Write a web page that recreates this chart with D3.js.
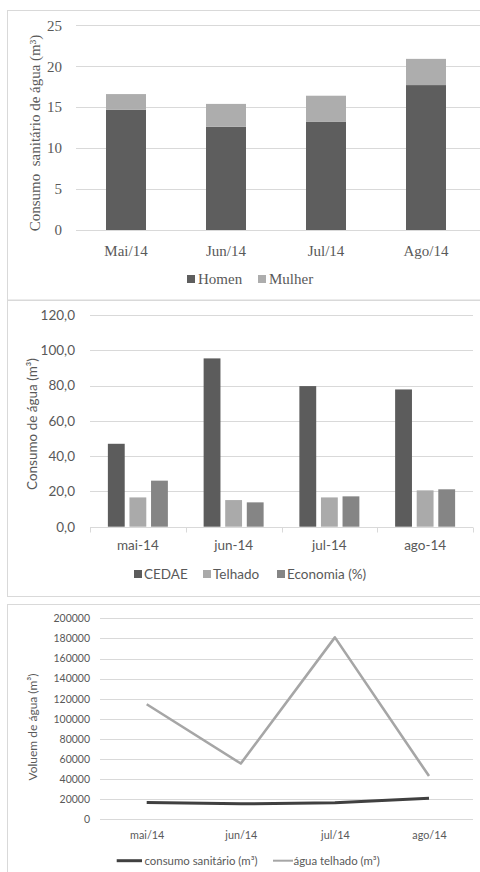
<!DOCTYPE html>
<html>
<head>
<meta charset="utf-8">
<script src="https://cdn.jsdelivr.net/npm/d3@7/dist/d3.min.js"></script>
<style>
  html, body { margin: 0; padding: 0; background: #fff; }
  svg { display: block; }
</style>
</head>
<body>
<svg id="chart" width="480" height="872"></svg>
<script>
// ---- Data ----
const months1 = ["Mai/14", "Jun/14", "Jul/14", "Ago/14"];
const homen = [14.7, 12.6, 13.2, 17.7];
const mulher = [1.9, 2.8, 3.2, 3.2];
const ticks1 = [0, 5, 10, 15, 20, 25];

const months2 = ["mai-14", "jun-14", "jul-14", "ago-14"];
const cedae = [47.0, 95.4, 79.7, 77.8];
const telhado = [16.6, 15.1, 16.6, 20.6];
const economia = [26.1, 13.8, 17.2, 21.2];
const ticks2 = [0, 20, 40, 60, 80, 100, 120];

const months3 = ["mai/14", "jun/14", "jul/14", "ago/14"];
const consumoSanitario = [16600, 15400, 16400, 20900];
const aguaTelhado = [114500, 55500, 181000, 43000];
const ticks3 = [0, 20000, 40000, 60000, 80000, 100000, 120000, 140000, 160000, 180000, 200000];

const svg = d3.select("#chart");
const gridColor = "#d9d9d9";
const textColor = "#595959";
const serif = "'Liberation Serif', 'Times New Roman', serif";
const sans = "Lato, 'Open Sans', sans-serif";

// Panel frames
svg.append("rect").attr("x", 7.5).attr("y", 10.5).attr("width", 480).attr("height", 289.5)
  .attr("fill", "none").attr("stroke", "#d9d9d9");
svg.append("rect").attr("x", 7.5).attr("y", 300.5).attr("width", 480).attr("height", 296)
  .attr("fill", "none").attr("stroke", "#d9d9d9");
svg.append("rect").attr("x", 7.5).attr("y", 604.5).attr("width", 480).attr("height", 280)
  .attr("fill", "none").attr("stroke", "#d9d9d9");

// ===== Panel 1: stacked bars =====
{
  const g = svg.append("g");
  const x = d3.scaleBand().domain(months1).range([76, 476]).paddingInner(0.6).paddingOuter(0.3);
  const y = d3.scaleLinear().domain([0, 25]).range([230, 25.3]);

  const yAxis = d3.axisLeft(y).tickValues(ticks1).tickSize(0).tickPadding(0);
  g.append("g").attr("transform", "translate(62,0)").call(yAxis)
    .call(a => a.select(".domain").remove())
    .call(a => a.selectAll("text").attr("font-family", serif).attr("font-size", 15).attr("fill", textColor));

  g.append("g").selectAll("line").data(ticks1).join("line")
    .attr("x1", 76).attr("x2", 480).attr("y1", d => Math.round(y(d)) + 0.5).attr("y2", d => Math.round(y(d)) + 0.5)
    .attr("stroke", gridColor).attr("stroke-width", 1);

  const rows = months1.map((m, i) => ({ month: m, Homen: homen[i], Mulher: mulher[i] }));
  const stack = d3.stack().keys(["Homen", "Mulher"])(rows);
  const col1 = { Homen: "#5e5e5e", Mulher: "#adadad" };
  g.append("g").selectAll("g").data(stack).join("g").attr("fill", s => col1[s.key])
    .selectAll("rect").data(s => s).join("rect")
    .attr("x", d => x(d.data.month)).attr("width", x.bandwidth())
    .attr("y", d => y(d[1])).attr("height", d => y(d[0]) - y(d[1]));

  const xAxis = d3.axisBottom(x).tickSize(0).tickPadding(0);
  g.append("g").attr("transform", "translate(0,245)").call(xAxis)
    .call(a => a.select(".domain").remove())
    .call(a => a.selectAll("text").attr("font-family", serif).attr("font-size", 15).attr("fill", textColor));

  g.append("text").attr("transform", "translate(40,133) rotate(-90)")
    .attr("text-anchor", "middle").attr("font-family", serif).attr("font-size", 15)
    .attr("fill", textColor).style("white-space", "pre")
    .text("Consumo  sanitário de água (m³)");

  const leg = [{ k: "Homen", x: 187 }, { k: "Mulher", x: 258 }];
  const lg = g.append("g").selectAll("g").data(leg).join("g")
    .attr("transform", d => `translate(${d.x},279)`);
  lg.append("rect").attr("x", 0).attr("y", -4).attr("width", 8).attr("height", 8).attr("fill", d => col1[d.k]);
  lg.append("text").attr("x", 11).attr("y", 5).attr("font-family", serif).attr("font-size", 15)
    .attr("fill", textColor).text(d => d.k);
}

// ===== Panel 2: grouped bars =====
{
  const g = svg.append("g");
  const x = d3.scaleBand().domain(months2).range([90, 473]);
  const bw = x.bandwidth();
  const keys = ["CEDAE", "Telhado", "Economia (%)"];
  const inner = d3.scaleBand().domain(keys).range([bw / 2 - 30, bw / 2 + 30]).paddingInner(0.22);
  const y = d3.scaleLinear().domain([0, 120]).range([526.7, 315]);
  const col2 = { "CEDAE": "#5c5c5c", "Telhado": "#aaaaaa", "Economia (%)": "#858585" };
  const series = { "CEDAE": cedae, "Telhado": telhado, "Economia (%)": economia };

  g.append("g").selectAll("line").data(ticks2.filter(d => d > 0)).join("line")
    .attr("x1", 90).attr("x2", 473).attr("y1", d => Math.round(y(d)) + 0.5).attr("y2", d => Math.round(y(d)) + 0.5)
    .attr("stroke", gridColor);

  const yAxis = d3.axisLeft(y).tickValues(ticks2).tickSize(0).tickPadding(0)
    .tickFormat(d => d3.format(".1f")(d).replace(".", ","));
  g.append("g").attr("transform", "translate(75,0)").call(yAxis)
    .call(a => a.select(".domain").remove())
    .call(a => a.selectAll("text").attr("font-family", sans).attr("font-size", 13.5).attr("fill", textColor));

  const data = [];
  months2.forEach((m, i) => keys.forEach(k => data.push({ m, k, v: series[k][i] })));
  g.append("g").selectAll("rect").data(data).join("rect")
    .attr("x", d => x(d.m) + inner(d.k)).attr("width", inner.bandwidth())
    .attr("y", d => y(d.v)).attr("height", d => y(0) - y(d.v)).attr("fill", d => col2[d.k]);

  // category axis with boundary ticks
  const base = Math.round(y(0)) + 0.5;
  g.append("line").attr("x1", 90).attr("x2", 473).attr("y1", base).attr("y2", base).attr("stroke", gridColor);
  const bounds = months2.map(m => x(m)).concat([x.range()[1]]);
  g.append("g").selectAll("line").data(bounds).join("line")
    .attr("x1", d => Math.round(d) + 0.5).attr("x2", d => Math.round(d) + 0.5)
    .attr("y1", base).attr("y2", base + 5).attr("stroke", gridColor);

  const xAxis = d3.axisBottom(x).tickSize(0).tickPadding(0);
  g.append("g").attr("transform", "translate(0,540)").call(xAxis)
    .call(a => a.select(".domain").remove())
    .call(a => a.selectAll("text").attr("font-family", sans).attr("font-size", 13.5).attr("fill", textColor));

  g.append("text").attr("transform", "translate(37,424) rotate(-90)")
    .attr("text-anchor", "middle").attr("font-family", sans).attr("font-size", 13.5)
    .attr("fill", textColor).text("Consumo de água (m³)");

  const leg = [{ k: "CEDAE", x: 134 }, { k: "Telhado", x: 203 }, { k: "Economia (%)", x: 277 }];
  const lg = g.append("g").selectAll("g").data(leg).join("g")
    .attr("transform", d => `translate(${d.x},574)`);
  lg.append("rect").attr("x", 0).attr("y", -4).attr("width", 8).attr("height", 8).attr("fill", d => col2[d.k]);
  lg.append("text").attr("x", 10).attr("y", 5).attr("font-family", sans).attr("font-size", 13.5)
    .attr("fill", textColor).text(d => d.k);
}

// ===== Panel 3: lines =====
{
  const g = svg.append("g");
  const x = d3.scalePoint().domain(months3).range([146.7, 429]);
  const y = d3.scaleLinear().domain([0, 200000]).range([819.3, 618.3]);

  g.append("g").selectAll("line").data(ticks3).join("line")
    .attr("x1", 100).attr("x2", 473).attr("y1", d => Math.round(y(d)) + 0.5).attr("y2", d => Math.round(y(d)) + 0.5)
    .attr("stroke", gridColor);

  const yAxis = d3.axisLeft(y).tickValues(ticks3).tickSize(0).tickPadding(0).tickFormat(d3.format("d"));
  g.append("g").attr("transform", "translate(90,0)").call(yAxis)
    .call(a => a.select(".domain").remove())
    .call(a => a.selectAll("text").attr("font-family", sans).attr("font-size", 10.5).attr("fill", textColor));

  const line = d3.line().x((d, i) => x(months3[i])).y(d => y(d));
  g.append("path").datum(aguaTelhado).attr("d", line).attr("fill", "none")
    .attr("stroke", "#a6a6a6").attr("stroke-width", 2.6).attr("stroke-linejoin", "round");
  g.append("path").datum(consumoSanitario).attr("d", line).attr("fill", "none")
    .attr("stroke", "#404040").attr("stroke-width", 3).attr("stroke-linejoin", "round");

  const xAxis = d3.axisBottom(x).tickSize(0).tickPadding(0);
  g.append("g").attr("transform", "translate(0,831)").call(xAxis)
    .call(a => a.select(".domain").remove())
    .call(a => a.selectAll("text").attr("font-family", sans).attr("font-size", 10.8).attr("fill", textColor));

  g.append("text").attr("transform", "translate(37,727) rotate(-90)")
    .attr("text-anchor", "middle").attr("font-family", sans).attr("font-size", 12)
    .attr("fill", textColor).text("Voluem de água (m³)");

  const leg = [
    { t: "consumo sanitário (m³)", x1: 116.7, x2: 142, c: "#404040", w: 3, tx: 144.5 },
    { t: "água telhado (m³)", x1: 273, x2: 293, c: "#a6a6a6", w: 2, tx: 293.5 }
  ];
  const lg = g.append("g").selectAll("g").data(leg).join("g");
  lg.append("line").attr("x1", d => d.x1).attr("x2", d => d.x2).attr("y1", 860.7).attr("y2", 860.7)
    .attr("stroke", d => d.c).attr("stroke-width", d => d.w);
  lg.append("text").attr("x", d => d.tx).attr("y", 864.8).attr("font-family", sans).attr("font-size", 11.4)
    .attr("fill", textColor).text(d => d.t);
}
</script>
</body>
</html>
